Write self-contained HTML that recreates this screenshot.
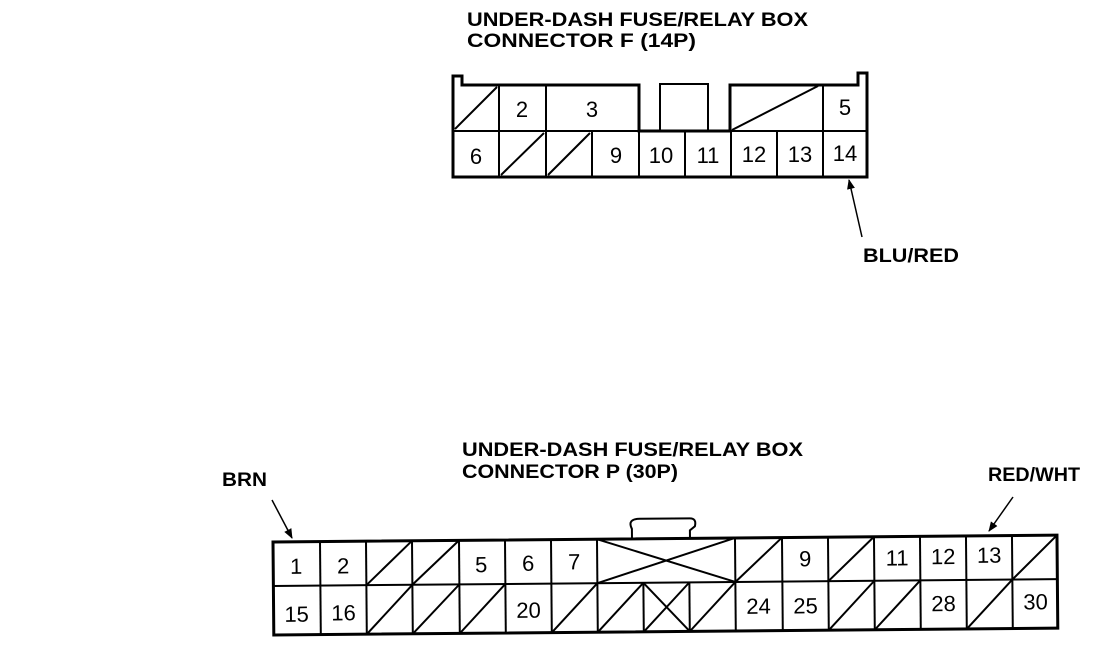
<!DOCTYPE html>
<html><head><meta charset="utf-8"><style>
html,body{margin:0;padding:0;background:#fff;}
svg{display:block;}
text{font-family:"Liberation Sans",Arial,sans-serif;}
.t{font-weight:bold;font-size:19px;}
.n{font-size:22px;}
</style></head><body>
<svg width="1120" height="652" viewBox="0 0 1120 652" xmlns="http://www.w3.org/2000/svg">
<defs><marker id="ah" markerWidth="10" markerHeight="10" refX="9" refY="5" orient="auto" markerUnits="userSpaceOnUse"><path d="M0,1 L10,5 L0,9 Z" fill="#000"/></marker></defs>
<g class="t" fill="#000">
<text x="467" y="26" textLength="341" lengthAdjust="spacingAndGlyphs">UNDER-DASH FUSE/RELAY BOX</text>
<text x="467" y="47" textLength="229" lengthAdjust="spacingAndGlyphs">CONNECTOR F (14P)</text>
<text x="462" y="456" textLength="341" lengthAdjust="spacingAndGlyphs">UNDER-DASH FUSE/RELAY BOX</text>
<text x="462" y="478" textLength="216" lengthAdjust="spacingAndGlyphs">CONNECTOR P (30P)</text>
<text x="863" y="262" textLength="96" lengthAdjust="spacingAndGlyphs">BLU/RED</text>
<text x="222" y="486" textLength="45" lengthAdjust="spacingAndGlyphs">BRN</text>
<text x="988" y="481" textLength="92" lengthAdjust="spacingAndGlyphs">RED/WHT</text>
</g>
<g stroke="#000" fill="none" stroke-width="2">
<path d="M453,177 L453,76 L462,76 L462,85 L639,85 L639,131 L730,131 L730,85 L858,85 L858,73 L867,73 L867,177 Z" stroke-width="3"/>
<rect x="660" y="84" width="48" height="47"/>
<line x1="453" y1="131" x2="867" y2="131"/>
<line x1="499" y1="85" x2="499" y2="177"/>
<line x1="546" y1="85" x2="546" y2="177"/>
<line x1="592" y1="131" x2="592" y2="177"/>
<line x1="639" y1="131" x2="639" y2="177"/>
<line x1="685" y1="131" x2="685" y2="177"/>
<line x1="731" y1="131" x2="731" y2="177"/>
<line x1="777" y1="131" x2="777" y2="177"/>
<line x1="823" y1="85" x2="823" y2="177"/>
<line x1="455" y1="129" x2="497" y2="87"/>
<line x1="501" y1="175" x2="544" y2="133"/>
<line x1="548" y1="175" x2="590" y2="133"/>
<line x1="732" y1="130" x2="818" y2="86"/>
</g>
<g class="n" fill="#000" text-anchor="middle">
<text x="522" y="117">2</text><text x="592" y="117">3</text><text x="845" y="115">5</text>
<text x="476" y="164">6</text><text x="616" y="163">9</text><text x="661" y="163">10</text><text x="708" y="163">11</text><text x="754" y="162">12</text><text x="800" y="162">13</text><text x="845" y="161">14</text>
</g>
<line x1="862" y1="237" x2="849" y2="180" stroke="#000" stroke-width="1.5" marker-end="url(#ah)"/>
<line x1="272" y1="500" x2="292" y2="538" stroke="#000" stroke-width="1.5" marker-end="url(#ah)"/>
<line x1="1013" y1="497" x2="989" y2="531" stroke="#000" stroke-width="1.5" marker-end="url(#ah)"/>
<g transform="rotate(-0.5 273 542)">
<path d="M632,542 L632,532 Q627,522 640,522 L690,522 Q697,522 695,530 L690,534 L690,542" stroke="#000" stroke-width="2" fill="none"/>
<g stroke="#000" fill="none" stroke-width="2">
<rect x="273" y="542" width="784" height="93" stroke-width="3"/>
<line x1="273" y1="586" x2="1057" y2="586"/>
<line x1="320" y1="542" x2="320" y2="635"/><line x1="366" y1="542" x2="366" y2="635"/><line x1="412" y1="542" x2="412" y2="635"/><line x1="459" y1="542" x2="459" y2="635"/><line x1="505" y1="542" x2="505" y2="635"/><line x1="551" y1="542" x2="551" y2="635"/><line x1="597" y1="542" x2="597" y2="635"/>
<line x1="643" y1="586" x2="643" y2="635"/><line x1="689" y1="586" x2="689" y2="635"/>
<line x1="735" y1="542" x2="735" y2="635"/><line x1="782" y1="542" x2="782" y2="635"/><line x1="828" y1="542" x2="828" y2="635"/><line x1="874" y1="542" x2="874" y2="635"/><line x1="920" y1="542" x2="920" y2="635"/><line x1="966" y1="542" x2="966" y2="635"/><line x1="1012" y1="542" x2="1012" y2="635"/>
<line x1="597" y1="542" x2="735" y2="586"/><line x1="597" y1="586" x2="735" y2="542"/>
<line x1="643" y1="586" x2="689" y2="635"/><line x1="643" y1="635" x2="689" y2="586"/>
<line x1="366" y1="586" x2="412" y2="542"/><line x1="412" y1="586" x2="459" y2="542"/><line x1="735" y1="586" x2="782" y2="542"/><line x1="828" y1="586" x2="874" y2="542"/><line x1="1012" y1="586" x2="1057" y2="542"/>
<line x1="366" y1="635" x2="412" y2="586"/><line x1="412" y1="635" x2="459" y2="586"/><line x1="459" y1="635" x2="505" y2="586"/><line x1="551" y1="635" x2="597" y2="586"/><line x1="597" y1="635" x2="643" y2="586"/><line x1="689" y1="635" x2="735" y2="586"/><line x1="828" y1="635" x2="874" y2="586"/><line x1="874" y1="635" x2="920" y2="586"/><line x1="966" y1="635" x2="1012" y2="586"/>
</g>
<g class="n" fill="#000" text-anchor="middle">
<text x="296" y="574">1</text><text x="343" y="574">2</text><text x="481" y="574">5</text><text x="528" y="573">6</text><text x="574" y="572">7</text><text x="805" y="571">9</text><text x="897" y="571">11</text><text x="943" y="570">12</text><text x="989" y="569">13</text>
<text x="296" y="622">15</text><text x="343" y="621">16</text><text x="528" y="620">20</text><text x="758" y="618">24</text><text x="805" y="618">25</text><text x="943" y="617">28</text><text x="1035" y="616">30</text>
</g>
</g>
</svg>
</body></html>
